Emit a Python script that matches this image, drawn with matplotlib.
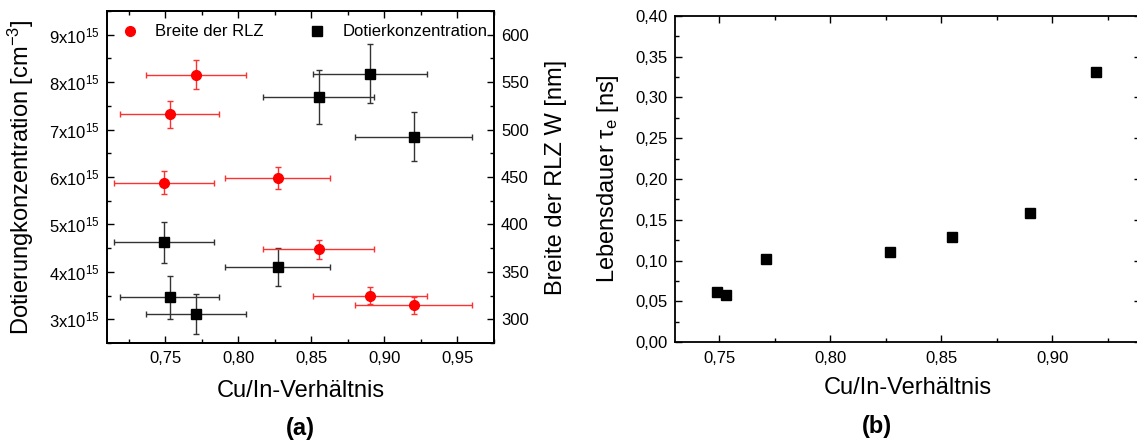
import matplotlib
matplotlib.use("Agg")
import matplotlib.pyplot as plt
from matplotlib.ticker import MultipleLocator, FuncFormatter
from matplotlib.lines import Line2D

plt.rcParams['font.family'] = ['Liberation Sans', 'DejaVu Sans']
plt.rcParams['mathtext.fontset'] = 'custom'
plt.rcParams['mathtext.rm'] = 'Liberation Sans'
plt.rcParams['mathtext.it'] = 'Liberation Sans:italic'
plt.rcParams['mathtext.bf'] = 'Liberation Sans:bold'

# ---- data ----
cu_in = [0.749, 0.753, 0.771, 0.827, 0.855, 0.890, 0.920]
cu_in_err = [0.034, 0.034, 0.0345, 0.036, 0.038, 0.039, 0.040]
rlz_width_nm = [444, 516, 558, 449, 374, 325, 315]
rlz_width_err = [12, 14, 15, 12, 10, 9, 9]
doping = [4.62e15, 3.46e15, 3.11e15, 4.10e15, 7.68e15, 8.18e15, 6.85e15]
doping_err = [0.44e15, 0.45e15, 0.43e15, 0.40e15, 0.57e15, 0.62e15, 0.51e15]
tau_ns = [0.062, 0.058, 0.102, 0.110, 0.129, 0.158, 0.331]

W, H = 1137, 443
fig = plt.figure(figsize=(W / 100, H / 100), dpi=100)

def frac(l, t, r, b):
    return [l / W, 1 - b / H, (r - l) / W, (b - t) / H]

def comma(fmt):
    return FuncFormatter(lambda v, p: (fmt % v).replace('.', ','))

def style(ax, right=True):
    for s in ax.spines.values():
        s.set_linewidth(1.3)
    ax.tick_params(which='both', direction='in', top=True, right=right,
                   labelsize=12, width=1.0)
    ax.tick_params(which='major', length=5)
    ax.tick_params(which='minor', length=3)
    ax.tick_params(axis='x', pad=6)
    ax.tick_params(axis='y', pad=5)

# ---- panel (a) ----
ax = fig.add_axes(frac(107, 11, 494, 343))
ax2 = ax.twinx()
ax.errorbar(cu_in, doping, xerr=cu_in_err, yerr=doping_err, fmt='s',
            color='black', ecolor='#333333', ms=6.5, elinewidth=1.0,
            capsize=2.5, capthick=1.0, zorder=3)
ax2.errorbar(cu_in, rlz_width_nm, xerr=cu_in_err, yerr=rlz_width_err, fmt='o',
             color='#ff0000', ecolor='#ff3030', ms=7, elinewidth=1.0,
             capsize=2.5, capthick=1.0, zorder=3)
ax.set_xlim(0.71, 0.975)
ax.set_ylim(2.5e15, 9.5e15)
ax2.set_ylim(275, 625)
ax.xaxis.set_major_locator(MultipleLocator(0.05))
ax.xaxis.set_minor_locator(MultipleLocator(0.025))
ax.xaxis.set_major_formatter(comma('%.2f'))
ax.yaxis.set_major_locator(MultipleLocator(1e15))
ax.yaxis.set_minor_locator(MultipleLocator(0.5e15))
ax.yaxis.set_major_formatter(FuncFormatter(
    lambda v, p: r'$\mathregular{%dx10^{15}}$' % round(v / 1e15)))
ax2.yaxis.set_major_locator(MultipleLocator(50))
ax2.yaxis.set_minor_locator(MultipleLocator(25))
style(ax, right=False)
style(ax2)
ax2.tick_params(which='both', left=False, top=False)
ax.set_xlabel('Cu/In-Verhältnis', fontsize=17)
ax.xaxis.set_label_coords(0.5, -0.112)
ax.set_ylabel(r'Dotierungkonzentration [cm$^{\mathregular{-3}}$]', fontsize=17)
ax.yaxis.set_label_coords(-0.183, 0.5)
ax2.set_ylabel('Breite der RLZ W [nm]', fontsize=17)
ax2.yaxis.set_label_coords(1.132, 0.5)

handles = [Line2D([], [], marker='o', color='#ff0000', ls='none', ms=7),
           Line2D([], [], marker='s', color='black', ls='none', ms=6.5)]
ax2.legend(handles, ['Breite der RLZ', 'Dotierkonzentration'], ncol=2,
           frameon=False, fontsize=12, loc='upper left',
           bbox_to_anchor=(0.0, 1.0), handlelength=1.2, handletextpad=0.9,
           columnspacing=2.6, borderaxespad=0.4)

fig.text(300 / W, 1 - 428 / H, '(a)', fontsize=17, fontweight='bold',
         ha='center', va='center')

# ---- panel (b) ----
bx = fig.add_axes(frac(675, 15.7, 1140.8, 342.3))
bx.plot(cu_in, tau_ns, 's', color='black', ms=6.5)
bx.set_xlim(0.73, 0.94)
bx.set_ylim(0, 0.40)
bx.xaxis.set_major_locator(MultipleLocator(0.05))
bx.xaxis.set_minor_locator(MultipleLocator(0.025))
bx.xaxis.set_major_formatter(comma('%.2f'))
bx.yaxis.set_major_locator(MultipleLocator(0.05))
bx.yaxis.set_minor_locator(MultipleLocator(0.025))
bx.yaxis.set_major_formatter(comma('%.2f'))
style(bx)
bx.set_xlabel('Cu/In-Verhältnis', fontsize=17)
bx.xaxis.set_label_coords(0.5, -0.105)
bx.set_ylabel(r'Lebensdauer τ$_{\mathregular{e}}$ [ns]', fontsize=17)
bx.yaxis.set_label_coords(-0.117, 0.5)

fig.text(877 / W, 1 - 427 / H, '(b)', fontsize=17, fontweight='bold',
         ha='center', va='center')

fig.savefig('out.png', dpi=100)
